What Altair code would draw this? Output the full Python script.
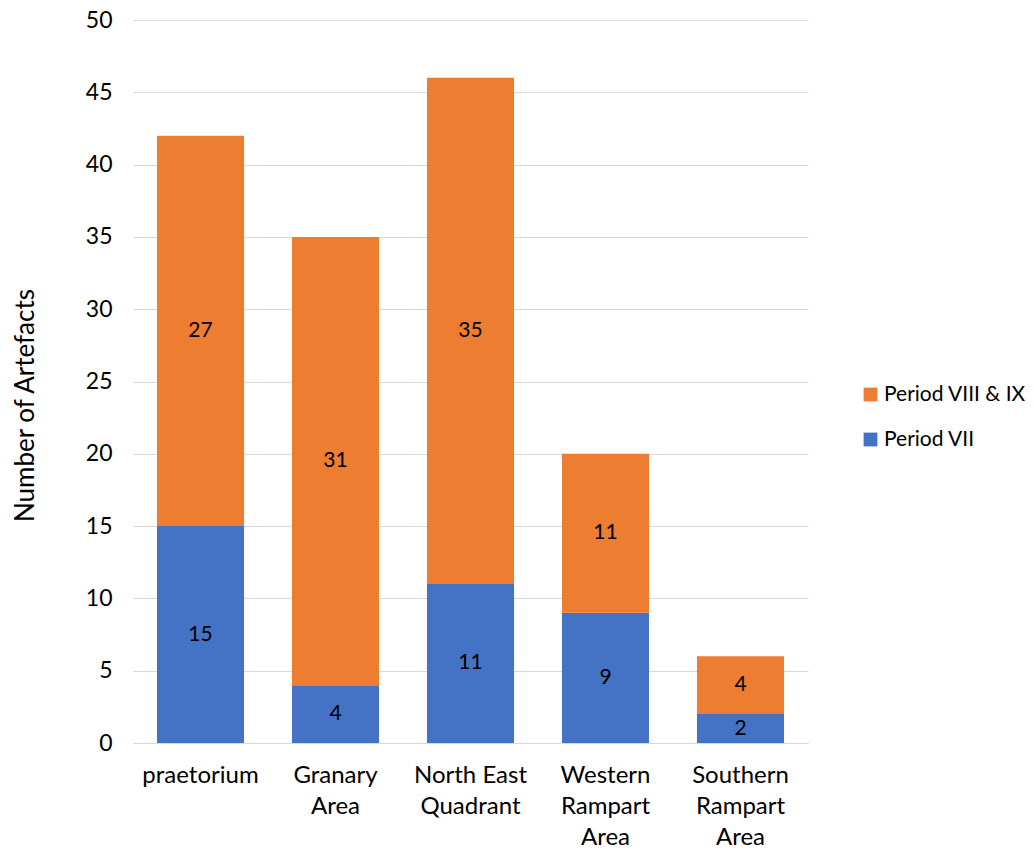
import altair as alt
import pandas as pd

sites = ["praetorium", "Granary Area", "North East Quadrant", "Western Rampart Area", "Southern Rampart Area"]
site_lines = [["praetorium"], ["Granary", "Area"], ["North East", "Quadrant"],
              ["Western", "Rampart", "Area"], ["Southern", "Rampart", "Area"]]
period_vii = [15, 4, 11, 9, 2]
period_viii_ix = [27, 31, 35, 11, 4]
series = ["Period VIII & IX", "Period VII"]
colors = ["#ED7D31", "#4472C4"]
y_ticks = list(range(0, 51, 5))

rows = []
for s, a, b in zip(sites, period_vii, period_viii_ix):
    rows.append({"site": s, "series": "Period VII", "value": a, "order": 0})
    rows.append({"site": s, "series": "Period VIII & IX", "value": b, "order": 1})
df = pd.DataFrame(rows)

label_map = "{" + ",".join(
    "'%s': [%s]" % (s, ",".join("'%s'" % l for l in lines)) for s, lines in zip(sites, site_lines)
) + "}"

FONT = "Lato"

base = alt.Chart(df).encode(
    x=alt.X("site:N", sort=sites, title=None,
            scale=alt.Scale(paddingInner=0.355, paddingOuter=0.1775),
            axis=alt.Axis(labelAngle=0, labelFontSize=24, labelColor="#000000",
                          labelFont=FONT, labelPadding=20, labelLineHeight=31,
                          labelExpr=label_map + "[datum.label]",
                          domainColor="#d9d9d9", ticks=False, labelBaseline="top")),
)

bars = base.mark_bar().encode(
    y=alt.Y("value:Q", stack="zero", title="Number of Artefacts",
            scale=alt.Scale(domain=[0, 50]),
            axis=alt.Axis(values=y_ticks, labelFontSize=23, labelColor="#000000",
                          labelFont=FONT, labelPadding=21, domain=False, ticks=False,
                          gridColor="#d9d9d9", titleFont=FONT, titleFontSize=26,
                          titleFontWeight="normal", titleColor="#000000",
                          titleX=-108, titleY=385, titleBaseline="middle")),
    color=alt.Color("series:N", scale=alt.Scale(domain=series, range=colors),
                    legend=alt.Legend(title=None, orient="none", legendX=727, legendY=364,
                                      symbolType="square", symbolSize=190, labelFontSize=21,
                                      labelFont=FONT, labelColor="#000000", rowPadding=23,
                                      symbolStrokeWidth=0, labelOffset=3)),
    order=alt.Order("order:Q"),
)

text = base.mark_text(fontSize=21, font=FONT, color="#000000").encode(
    y=alt.Y("value:Q", stack="zero", bandPosition=0.5),
    text=alt.Text("value:Q"),
    order=alt.Order("order:Q"),
)

chart = alt.layer(bars, text).properties(
    width=675, height=723,
    autosize=alt.AutoSizeParams(type="none"),
    padding={"left": 125, "top": 12, "right": 218, "bottom": 105},
).configure_view(stroke=None)

chart.save("out.html", embed_options={"renderer": "svg", "actions": False})
